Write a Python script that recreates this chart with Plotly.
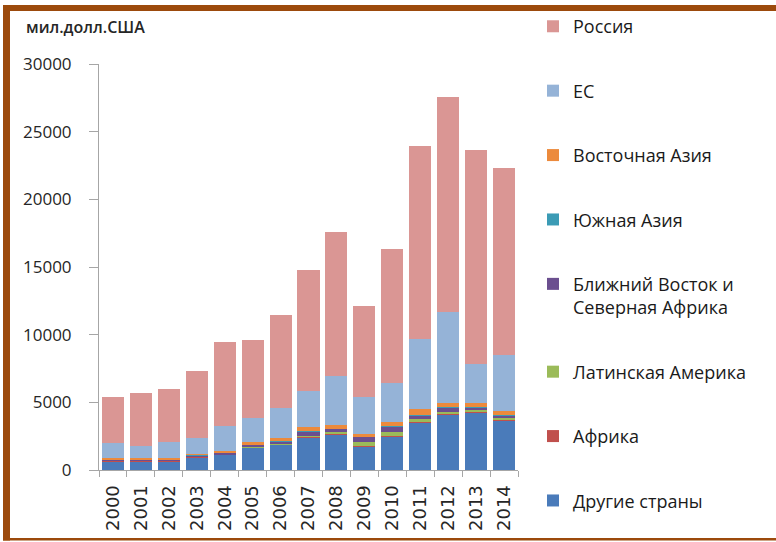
import plotly.graph_objects as go

# Годы
years = [str(y) for y in range(2000, 2015)]

# Значения по регионам, мил. долл. США (снизу вверх в стопке)
other = [600, 600, 600, 900, 1150, 1650, 1850, 2400, 2600, 1750, 2500, 3500, 4100, 4250, 3650]
africa = [40, 40, 40, 40, 30, 40, 40, 40, 40, 40, 40, 50, 50, 50, 50]
latam = [0, 0, 0, 0, 0, 20, 30, 100, 150, 250, 300, 250, 150, 150, 150]
mena = [150, 150, 150, 150, 100, 150, 200, 300, 250, 400, 400, 250, 300, 200, 200]
south_asia = [20, 20, 20, 20, 20, 20, 20, 20, 20, 30, 30, 30, 30, 30, 30]
east_asia = [50, 50, 50, 50, 100, 200, 250, 300, 250, 200, 250, 400, 350, 300, 250]
eu = [1140, 940, 1190, 1240, 1880, 1770, 2190, 2690, 3640, 2730, 2930, 5170, 6660, 2830, 4140]
russia = [3400, 3900, 3900, 4900, 6170, 5750, 6870, 8900, 10650, 6750, 9900, 14300, 15910, 15840, 13880]

series = [
    ("Другие страны", other, "#4A7BBA"),
    ("Африка", africa, "#C0504D"),
    ("Латинская Америка", latam, "#9BBB59"),
    ("Ближний Восток и<br>Северная Африка", mena, "#6B4F8F"),
    ("Южная Азия", south_asia, "#3B9BB5"),
    ("Восточная Азия", east_asia, "#EC8A3C"),
    ("ЕС", eu, "#95B3D7"),
    ("Россия", russia, "#DA9694"),
]

W, H = 776, 542
ML, MR, MT, MB = 99, 258, 64, 71.5
PW, PH = W - ML - MR, H - MT - MB


def px(x):
    return (x - ML) / PW


def py(y):
    return (H - MB - y) / PH


fig = go.Figure()
n = len(series)
for i, (name, vals, col) in enumerate(series):
    fig.add_trace(go.Bar(
        x=years, y=vals, name=name, marker_color=col,
        marker_line_width=0, legendgroup=f"g{i}", legendrank=n - i,
    ))

brown = "#9C4A0C"
shapes = [
    dict(type="rect", xref="paper", yref="paper", x0=px(3), x1=px(10), y0=py(541), y1=py(5),
         fillcolor=brown, line_width=0, layer="above"),
    dict(type="rect", xref="paper", yref="paper", x0=px(3), x1=px(776), y0=py(11), y1=py(5),
         fillcolor=brown, line_width=0, layer="above"),
    dict(type="rect", xref="paper", yref="paper", x0=px(3), x1=px(776), y0=py(541), y1=py(538.5),
         fillcolor=brown, line_width=0, layer="above"),
]

fig.update_layout(
    width=W, height=H,
    margin=dict(l=ML, r=MR, t=MT, b=MB, autoexpand=False),
    paper_bgcolor="white", plot_bgcolor="white",
    barmode="stack", bargap=0.21,
    font=dict(family="Open Sans", color="#262626"),
    shapes=shapes,
    showlegend=True,
    legend=dict(
        x=px(533), y=py(8), xanchor="left", yanchor="top",
        traceorder="grouped", tracegroupgap=38, maxheight=540,
        font=dict(size=18, family="Open Sans", color="#1A1A1A"),
        valign="top", bgcolor="rgba(0,0,0,0)",
    ),
    annotations=[dict(
        text="мил.долл.США", xref="paper", yref="paper", x=px(24), y=py(27),
        xanchor="left", yanchor="middle", showarrow=False,
        font=dict(size=16, family="Open Sans", color="#262626", weight=600),
    )],
    xaxis=dict(
        showline=True, linecolor="#A6A6A6", linewidth=1, automargin=False,
        ticks="outside", tickson="boundaries", ticklen=6, tickcolor="#A6A6A6",
        tickangle=-90, ticklabelstandoff=7,
        tickfont=dict(size=18, family="DejaVu Sans", color="#262626"),
        showgrid=False, zeroline=False,
    ),
    yaxis=dict(
        range=[0, 30000], dtick=5000, tickformat="d", automargin=False,
        showline=True, linecolor="#A6A6A6", linewidth=1,
        ticks="outside", ticklen=9, tickcolor="#A6A6A6", ticklabelstandoff=14,
        tickfont=dict(size=17, family="Open Sans", color="#262626"),
        showgrid=False, zeroline=False,
    ),
)

fig.write_html("out.html")
